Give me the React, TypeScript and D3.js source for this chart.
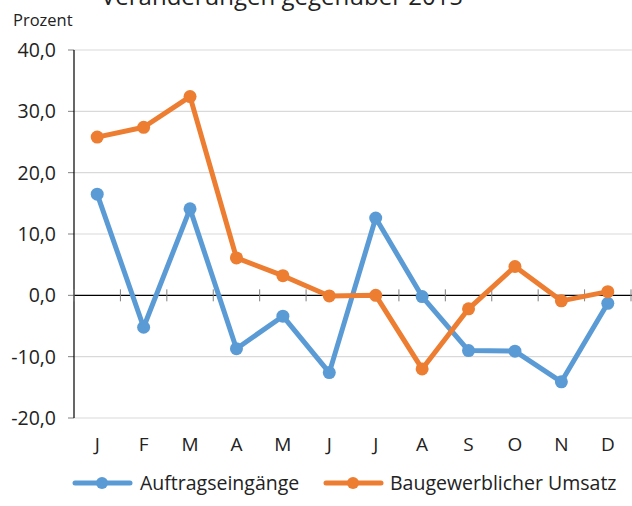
import React from "react";
import * as d3 from "d3";

const months = ["J", "F", "M", "A", "M", "J", "J", "A", "S", "O", "N", "D"];
const auftrag = [16.5, -5.2, 14.1, -8.7, -3.4, -12.6, 12.6, -0.2, -9.0, -9.1, -14.1, -1.3];
const umsatz = [25.8, 27.4, 32.4, 6.1, 3.2, -0.1, 0.0, -12.0, -2.2, 4.7, -0.9, 0.6];
const yTicks = [40, 30, 20, 10, 0, -10, -20];
const seriesNames = ["Auftragseingänge", "Baugewerblicher Umsatz"];
const colors = ["#5B9BD5", "#ED7D31"];

const W = 632;
const H = 506;
const FONT = "'Open Sans', sans-serif";

export default function App() {
  const x = d3.scaleBand<number>().domain(d3.range(12)).range([74, 631]);
  const y = d3.scaleLinear().domain([-20, 40]).range([418, 50]);
  const cx = (i: number) => (x(i) as number) + x.bandwidth() / 2;
  const line = d3
    .line<number>()
    .x((_, i) => cx(i))
    .y((d) => y(d));
  const series = [auftrag, umsatz];
  const fmt = (v: number) => v.toFixed(1).replace(".", ",");
  const boundaries = d3.range(13).map((i) => 74 + i * x.bandwidth());

  return (
    <svg
      width={W}
      height={H}
      style={{ position: "absolute", left: 0, top: 0, background: "#fff" }}
      fontFamily={FONT}
    >
      <text x={101} y={5} fontSize={24} fill="#222">
        Veränderungen gegenüber 2015
      </text>
      <text x={13} y={26} fontSize={16.5} fill="#222">
        Prozent
      </text>
      {yTicks.map((t) => (
        <g key={t}>
          {t !== 0 && (
            <line x1={74} x2={632} y1={y(t)} y2={y(t)} stroke="#d9d9d9" strokeWidth={1.2} />
          )}
          <line x1={68} x2={74} y1={y(t)} y2={y(t)} stroke="#808080" strokeWidth={1} />
          <text x={56} y={y(t)} dy="0.36em" textAnchor="end" fontSize={19.5} fill="#222">
            {fmt(t)}
          </text>
        </g>
      ))}
      <line x1={74} x2={74} y1={y(40)} y2={y(-20)} stroke="#000" strokeWidth={1.2} />
      <line x1={74} x2={632} y1={y(0)} y2={y(0)} stroke="#000" strokeWidth={1.2} />
      {boundaries.map((b, i) => (
        <line key={i} x1={b} x2={b} y1={y(0) - 6} y2={y(0) + 6} stroke="#808080" strokeWidth={1} />
      ))}
      {months.map((m, i) => (
        <text key={i} x={cx(i)} y={451} textAnchor="middle" fontSize={19} fill="#222">
          {m}
        </text>
      ))}
      {series.map((s, k) => (
        <g key={k}>
          <path d={line(s) || ""} fill="none" stroke={colors[k]} strokeWidth={5} strokeLinejoin="round" />
          {s.map((v, i) => (
            <circle key={i} cx={cx(i)} cy={y(v)} r={6.5} fill={colors[k]} />
          ))}
        </g>
      ))}
      {[
        { x0: 75, tx: 140 },
        { x0: 326, tx: 390 },
      ].map((l, k) => (
        <g key={k}>
          <line x1={l.x0} x2={l.x0 + 55} y1={483} y2={483} stroke={colors[k]} strokeWidth={5} strokeLinecap="round" />
          <circle cx={l.x0 + 27} cy={483} r={6} fill={colors[k]} />
          <text x={l.tx} y={490} fontSize={19.5} fill="#222">
            {seriesNames[k]}
          </text>
        </g>
      ))}
    </svg>
  );
}
